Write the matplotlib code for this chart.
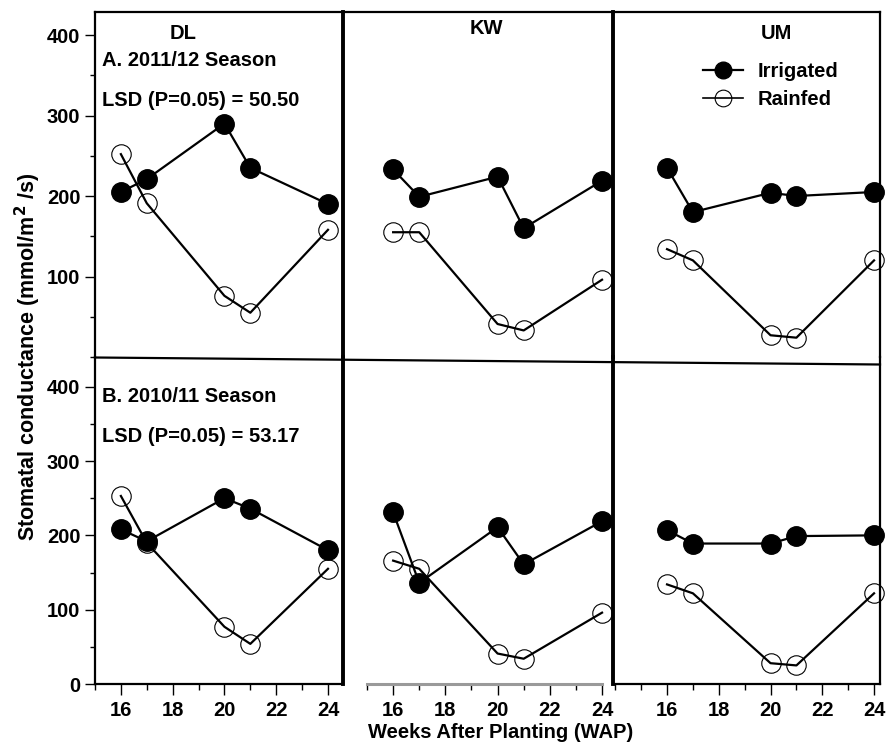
import numpy as np
import matplotlib
matplotlib.use("Agg")
from matplotlib import pyplot as plt
from matplotlib.lines import Line2D
from matplotlib.ticker import MultipleLocator

plt.rcParams['font.family'] = ['Liberation Sans', 'DejaVu Sans']
plt.rcParams['font.weight'] = 'bold'
plt.rcParams['font.size'] = 14.5

weeks = [16, 17, 20, 21, 24]
sites = ["DL", "KW", "UM"]

# 2011/12 season (top row)
dl_irr_a = [205, 221, 290, 235, 190]
dl_rain_a = [252, 191, 76, 55, 158]
kw_irr_a = [233, 199, 224, 160, 219]
kw_rain_a = [155, 155, 41, 33, 96]
um_irr_a = [235, 180, 204, 200, 205]
um_rain_a = [134, 120, 27, 24, 120]

# 2010/11 season (bottom row)
dl_irr_b = [208, 192, 250, 236, 180]
dl_rain_b = [253, 190, 77, 54, 155]
kw_irr_b = [231, 136, 211, 161, 219]
kw_rain_b = [166, 155, 41, 34, 96]
um_irr_b = [207, 189, 189, 199, 200]
um_rain_b = [134, 122, 28, 25, 122]

season_labels = ["A. 2011/12 Season", "B. 2010/11 Season"]
lsd_labels = ["LSD (P=0.05) = 50.50", "LSD (P=0.05) = 53.17"]

irrigated = [[dl_irr_a, kw_irr_a, um_irr_a], [dl_irr_b, kw_irr_b, um_irr_b]]
rainfed = [[dl_rain_a, kw_rain_a, um_rain_a], [dl_rain_b, kw_rain_b, um_rain_b]]

W, H = 887, 744
fig = plt.figure(figsize=(W / 100, H / 100), dpi=100)

# pixel boxes for the columns and rows
cols = [(95, 343), (343, 613), (614, 880)]
rows = [(12, 357), (357, 684)]
xlims = [(15.0, 24.58), (14.08, 24.42), (13.95, 24.23)]
ylims = [(0, 428.6), (0, 440)]

axes = [[None] * 3 for _ in range(2)]
for r, (top, bot) in enumerate(rows):
    for c, (left, right) in enumerate(cols):
        ax = fig.add_axes([left / W, 1 - bot / H, (right - left) / W, (bot - top) / H])
        ax.set_facecolor('none')
        axes[r][c] = ax

        ax.plot(weeks, rainfed[r][c], '-o', color='black', lw=1.6, ms=14,
                mfc='none', mec='black', mew=0.8, clip_on=False, zorder=3)
        ax.plot(weeks, irrigated[r][c], '-o', color='black', lw=1.6, ms=14,
                mfc='black', mec='black', clip_on=False, zorder=4)

        ax.set_xlim(*xlims[c])
        ax.set_ylim(*ylims[r])

        for s in ax.spines.values():
            s.set_linewidth(1.6)
        if c == 1:
            ax.spines['left'].set_linewidth(2.8)
            ax.spines['right'].set_linewidth(2.8)
        if c == 0:
            ax.spines['right'].set_visible(False)
        if c == 2:
            ax.spines['left'].set_visible(False)
        # the row divider is drawn separately
        if r == 0:
            ax.spines['bottom'].set_visible(False)
        else:
            ax.spines['top'].set_visible(False)

        if r == 1:
            ax.set_xticks([16, 18, 20, 22, 24])
            ax.xaxis.set_minor_locator(MultipleLocator(1))
            ax.tick_params(axis='x', which='major', direction='out', length=8,
                           width=1, pad=4, labelsize=14.5)
            ax.tick_params(axis='x', which='minor', direction='out', length=4, width=1)
        else:
            ax.set_xticks([])

        if c == 0:
            if r == 0:
                ax.set_yticks([100, 200, 300, 400])
            else:
                ax.set_yticks([0, 100, 200, 300, 400])
            ax.yaxis.set_minor_locator(MultipleLocator(50))
            ax.tick_params(axis='y', which='major', direction='out', length=7.5,
                           width=1, pad=3, labelsize=14.5)
            ax.tick_params(axis='y', which='minor', direction='out', length=3.5, width=1)
        else:
            ax.set_yticks([])

# bottom of the KW panel: grey baseline instead of a spine
ax = axes[1][1]
ax.spines['bottom'].set_visible(False)
ax.plot([15, 24], [0, 0], color='#9a9a9a', lw=2.2, clip_on=False, zorder=2)

# site titles
axes[0][0].text(0.355, 0.938, "DL", transform=axes[0][0].transAxes, ha='center', va='center')
axes[0][1].text(0.53, 0.953, "KW", transform=axes[0][1].transAxes, ha='center', va='center')
axes[0][2].text(0.61, 0.937, "UM", transform=axes[0][2].transAxes, ha='center', va='center')

# season and LSD annotations
for r, (top, bot) in enumerate(rows):
    ax = axes[r][0]
    h = bot - top
    y1 = [60, 396][r]
    y2 = [100, 437][r]
    ax.text(7 / 248, (bot - y1) / h, season_labels[r], transform=ax.transAxes,
            ha='left', va='center')
    ax.text(7 / 248, (bot - y2) / h, lsd_labels[r], transform=ax.transAxes,
            ha='left', va='center')

# legend in the UM panel
handles = [
    Line2D([], [], color='black', lw=1.6, marker='o', ms=12, mfc='black', mec='black'),
    Line2D([], [], color='black', lw=1.2, marker='o', ms=12, mfc='none', mec='black', mew=0.8),
]
axes[0][2].legend(handles, ["Irrigated", "Rainfed"], loc='upper left',
                  bbox_to_anchor=(0.335, 0.855), frameon=False, borderpad=0,
                  borderaxespad=0, handlelength=2.0, handletextpad=0.7,
                  labelspacing=0.45, fontsize=14.5)

# slanted divider between the two rows
fig.add_artist(Line2D([95 / W, 880 / W], [1 - 357.5 / H, 1 - 364.5 / H],
                      transform=fig.transFigure, color='black', lw=1.6))

fig.text(28 / W, 1 - 357 / H, "Stomatal conductance (mmol/m$^\\mathbf{2}$ /s)",
         rotation=90, ha='center', va='center', fontsize=15.5)
fig.text(501 / W, 1 - 732 / H, "Weeks After Planting (WAP)",
         ha='center', va='center', fontsize=14.5)

fig.savefig("out.png", dpi=100)
